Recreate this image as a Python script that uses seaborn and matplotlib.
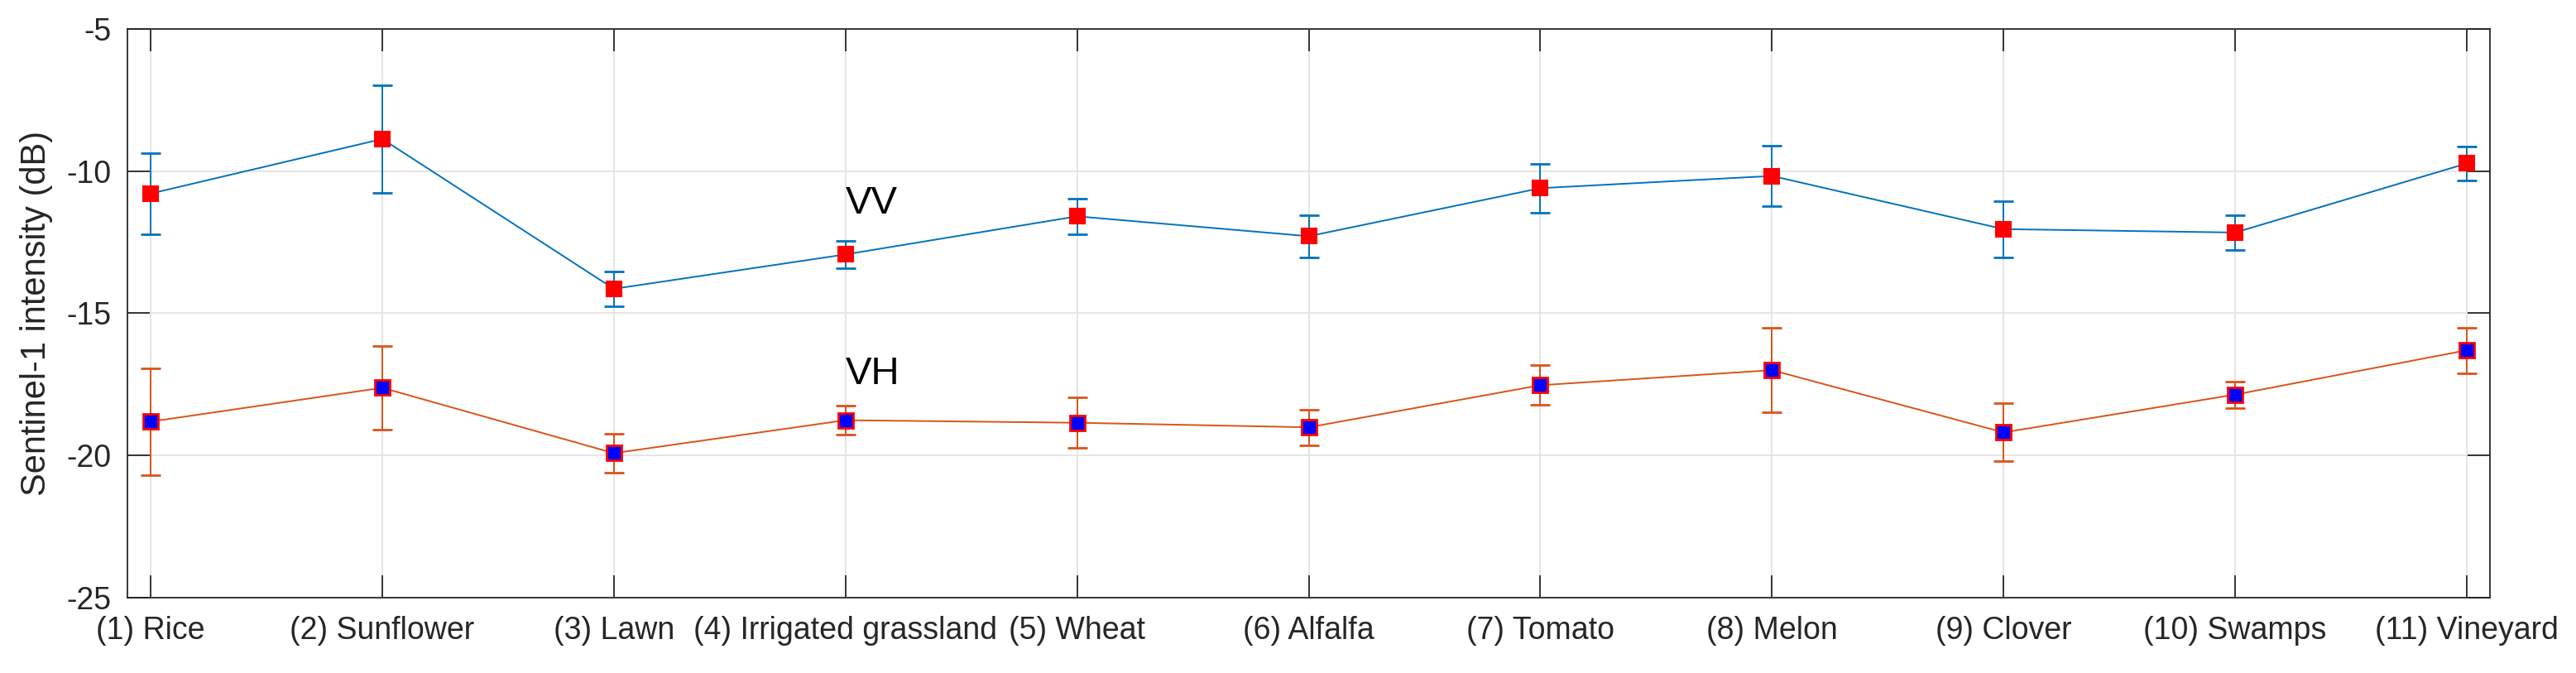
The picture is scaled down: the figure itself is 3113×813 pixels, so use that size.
import numpy as np
import pandas as pd
import matplotlib
matplotlib.use("Agg")
import matplotlib.pyplot as plt
import seaborn as sns

CLASSES = ["(1) Rice", "(2) Sunflower", "(3) Lawn", "(4) Irrigated grassland",
           "(5) Wheat", "(6) Alfalfa", "(7) Tomato", "(8) Melon",
           "(9) Clover", "(10) Swamps", "(11) Vineyard"]
VV_MEAN = [-10.79, -8.87, -14.14, -12.93, -11.59, -12.29, -10.60, -10.17, -12.04, -12.16, -9.73]
VV_STD = [1.43, 1.90, 0.62, 0.48, 0.63, 0.75, 0.85, 1.07, 0.99, 0.62, 0.60]
VH_MEAN = [-18.81, -17.62, -19.92, -18.76, -18.85, -19.01, -17.53, -17.00, -19.19, -17.86, -16.30]
VH_STD = [1.88, 1.47, 0.68, 0.52, 0.89, 0.63, 0.70, 1.48, 1.02, 0.47, 0.80]

BLUE = "#0072BD"
ORANGE = "#D95319"
TEXT = "#262626"

sns.set_theme(style="white")
plt.rcParams["font.family"] = ["Liberation Sans", "DejaVu Sans"]

x = np.arange(1, len(CLASSES) + 1)
df = pd.DataFrame({
    "x": np.concatenate([x, x]),
    "value": VV_MEAN + VH_MEAN,
    "err": VV_STD + VH_STD,
    "pol": ["VV"] * len(x) + ["VH"] * len(x),
})

fig = plt.figure(figsize=(31.13, 8.13), dpi=100)
ax = fig.add_axes([0.0495, 0.112, 0.9171, 0.845])

# error bars first, then lines + markers on top
for pol, color in [("VV", BLUE), ("VH", ORANGE)]:
    sub = df[df["pol"] == pol]
    ax.errorbar(sub["x"], sub["value"], yerr=sub["err"], fmt="none",
                ecolor=color, elinewidth=1.4, capsize=8.5, capthick=2, zorder=2)

sns.lineplot(data=df[df["pol"] == "VV"], x="x", y="value", ax=ax, color=BLUE,
             linewidth=1.4, marker="s", markersize=13, markerfacecolor="red",
             markeredgecolor="red", markeredgewidth=1.5, legend=False, zorder=3)
sns.lineplot(data=df[df["pol"] == "VH"], x="x", y="value", ax=ax, color=ORANGE,
             linewidth=1.4, marker="s", markersize=13, markerfacecolor="blue",
             markeredgecolor="red", markeredgewidth=2, legend=False, zorder=3)

ax.text(4, -11.15, "VV", fontsize=34, color="black", va="center", ha="left")
ax.text(4, -17.15, "VH", fontsize=34, color="black", va="center", ha="left")

ax.set_xlim(0.9, 11.1)
ax.set_ylim(-25, -5)
ax.set_xticks(x)
ax.set_xticklabels(CLASSES)
ax.set_yticks([-25, -20, -15, -10, -5])
ax.set_yticklabels(["-25", "-20", "-15", "-10", "-5"])
ax.set_xlabel("")
ax.set_ylabel("Sentinel-1 intensity (dB)", fontsize=30, color=TEXT, labelpad=12)

ax.grid(True, color="#e3e3e3", linewidth=1.3)
ax.set_axisbelow(True)
ax.tick_params(axis="both", which="major", direction="in", length=19.5, width=1.3,
               colors=TEXT, labelsize=27, top=True, right=True, left=True, bottom=True)
ax.tick_params(axis="x", pad=16)
ax.tick_params(axis="y", pad=14)
for side in ax.spines.values():
    side.set_color(TEXT)
    side.set_linewidth(1.3)

fig.savefig("out.png", dpi=100)
